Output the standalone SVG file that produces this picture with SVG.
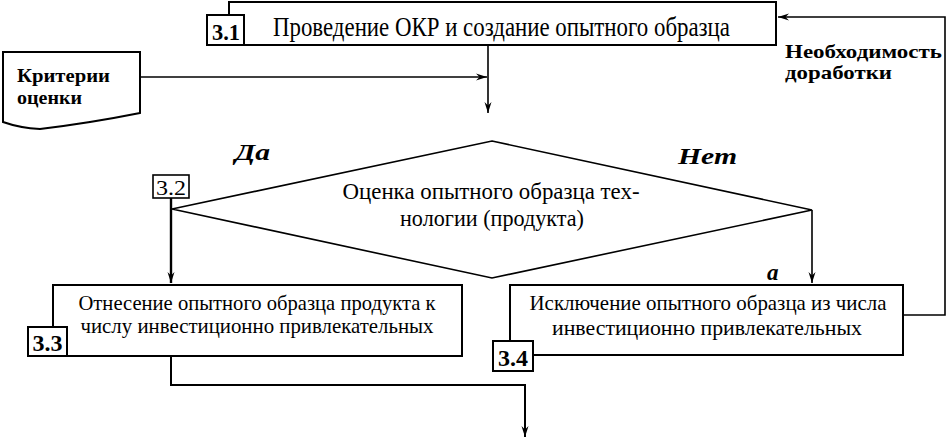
<svg xmlns="http://www.w3.org/2000/svg" width="952" height="439" viewBox="0 0 952 439">
<style>
.box{fill:#fff;stroke:#000;stroke-width:2}
.lbl{fill:#fff;stroke:#000;stroke-width:2}
.dia{fill:#fff;stroke:#000;stroke-width:1.6}
.t{font-family:"Liberation Serif","Times New Roman",serif;fill:#000;text-anchor:middle}
.b{font-family:"Liberation Serif","Times New Roman",serif;font-weight:bold;fill:#000}
.bi{font-family:"Liberation Serif","Times New Roman",serif;font-weight:bold;font-style:italic;fill:#000}
.c{fill:none;stroke:#000;stroke-width:1.6}
</style>
<defs>
<marker id="ah" markerUnits="userSpaceOnUse" markerWidth="14" markerHeight="10" viewBox="-12 -5 14 10" refX="0" refY="0" orient="auto">
<path d="M0,0 L-11,-3.5 L-7.5,0 L-11,3.5 Z" fill="#000"/>
</marker>
</defs>
<rect width="952" height="439" fill="#fff"/>
<g id="connectors">
<path class="c" d="M903,315 H945 V17 H778" marker-end="url(#ah)"/>
<path class="c" d="M488,45 V113" marker-end="url(#ah)"/>
<path class="c" d="M140,77 H487" marker-end="url(#ah)"/>
<path class="c" d="M171,198 V283" style="stroke-width:2.4" marker-end="url(#ah)"/>
<path class="c" d="M812,210 V283" marker-end="url(#ah)"/>
<path class="c" d="M171,356 V385 H525 V437" style="stroke-width:2" marker-end="url(#ah)"/>
</g>
<g id="node31">
<rect class="box" x="229" y="2" width="547" height="43"/>
<rect class="lbl" x="207" y="15" width="37" height="30"/>
<text class="b" x="226" y="40" font-size="24" text-anchor="middle" textLength="28" lengthAdjust="spacingAndGlyphs">3.1</text>
<text class="t" x="501.5" y="36" font-size="27" textLength="457" lengthAdjust="spacingAndGlyphs">Проведение ОКР и создание опытного образца</text>
</g>
<g id="criteria">
<path class="box" d="M3,52 H140 V113 Q90,123 40,129 Q20,128 3,122 Z"/>
<text class="b" x="17" y="82" font-size="19" textLength="93" lengthAdjust="spacingAndGlyphs">Критерии</text>
<text class="b" x="17" y="104" font-size="19" textLength="65" lengthAdjust="spacingAndGlyphs">оценки</text>
</g>
<g id="node32">
<polygon class="dia" points="492,141 812,210 492,278 172,209"/>
<rect class="lbl" x="153" y="175" width="36" height="23" style="stroke-width:1.6"/>
<text class="t" x="171" y="195" font-size="22" textLength="30" lengthAdjust="spacingAndGlyphs">3.2</text>
<text class="t" x="491" y="199" font-size="23" textLength="297" lengthAdjust="spacingAndGlyphs">Оценка опытного образца тех-</text>
<text class="t" x="492" y="226" font-size="23" textLength="184" lengthAdjust="spacingAndGlyphs">нологии (продукта)</text>
</g>
<g id="node33">
<rect class="box" x="53" y="285" width="409" height="71"/>
<rect class="lbl" x="28" y="327" width="39" height="29"/>
<text class="b" x="47.5" y="351" font-size="23" text-anchor="middle" textLength="30" lengthAdjust="spacingAndGlyphs">3.3</text>
<text class="t" x="257" y="310" font-size="21" textLength="357" lengthAdjust="spacingAndGlyphs">Отнесение опытного образца продукта к</text>
<text class="t" x="257" y="333" font-size="21" textLength="353" lengthAdjust="spacingAndGlyphs">числу инвестиционно привлекательных</text>
</g>
<g id="node34">
<rect class="box" x="510" y="285" width="393" height="70"/>
<rect class="lbl" x="493" y="341" width="40" height="30"/>
<text class="b" x="513" y="366" font-size="23" text-anchor="middle" textLength="30" lengthAdjust="spacingAndGlyphs">3.4</text>
<text class="t" x="708" y="310" font-size="21" textLength="357" lengthAdjust="spacingAndGlyphs">Исключение опытного образца из числа</text>
<text class="t" x="707" y="335" font-size="21" textLength="310" lengthAdjust="spacingAndGlyphs">инвестиционно привлекательных</text>
</g>
<g id="labels">
<text class="bi" x="235" y="160" font-size="23" textLength="35" lengthAdjust="spacingAndGlyphs">Да</text>
<text class="bi" x="678" y="164" font-size="23" textLength="59" lengthAdjust="spacingAndGlyphs">Нет</text>
<text class="bi" x="767" y="280" font-size="23">a</text>
<text class="b" x="785" y="58" font-size="19" textLength="157" lengthAdjust="spacingAndGlyphs">Необходимость</text>
<text class="b" x="785" y="79" font-size="19" textLength="107" lengthAdjust="spacingAndGlyphs">доработки</text>
</g>
</svg>
